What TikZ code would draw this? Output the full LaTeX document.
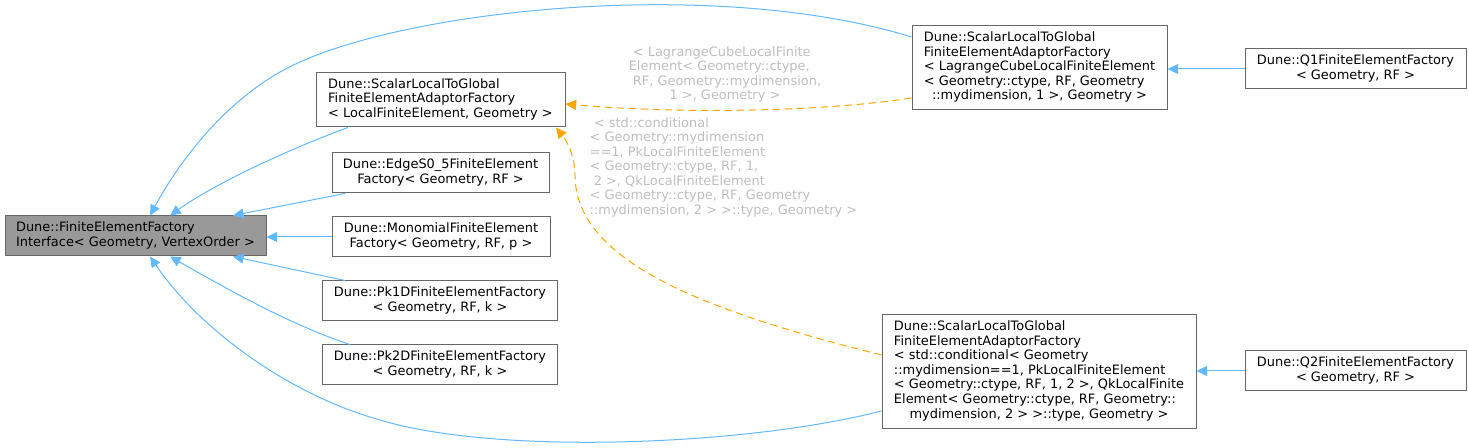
\documentclass[tikz,border=0pt]{standalone}
\usepackage{fontspec}
\setmainfont{DejaVu Sans}
\usetikzlibrary{arrows.meta}
\definecolor{edgeblue}{HTML}{63B8FF}
\definecolor{edgeorange}{HTML}{FFA500}
\definecolor{boxborder}{HTML}{666666}
\definecolor{basefill}{HTML}{999999}
\definecolor{labelgrey}{HTML}{BEBEBE}
\newcommand{\lastln}[1]{\multicolumn{1}{@{}c@{}}{#1}}
\tikzset{
  box/.style={draw=boxborder, fill=white, line width=0.75pt, inner sep=0pt,
    font=\fontsize{9.7}{10.9}\selectfont, text=black},
  basebox/.style={box, fill=basefill},
  lbl/.style={inner sep=0pt, font=\fontsize{9.7}{10.9}\selectfont, text=labelgrey},
  inherit/.style={draw=edgeblue, line width=0.75pt, -{Triangle[length=8pt,width=7.5pt]}},
  tmpl/.style={draw=edgeorange, line width=0.75pt, dash pattern=on 5.5pt off 3.5pt, -{Triangle[length=8pt,width=7.5pt]}, edgeorange}
}
\begin{document}
\begin{tikzpicture}[x=0.75pt, y=-0.75pt]
\useasboundingbox (0,0) rectangle (1469,448);

\node[basebox, minimum width=195.75pt, minimum height=30pt] (base) at (135.5,236)
  {\begin{tabular}{@{}l@{}}Dune::FiniteElementFactory\\ \lastln{Interface< Geometry, VertexOrder >}\end{tabular}};
\node[box, minimum width=186.75pt, minimum height=40.5pt] (SL) at (440.5,100)
  {\begin{tabular}{@{}l@{}}Dune::ScalarLocalToGlobal\\ FiniteElementAdaptorFactory\\ \lastln{< LocalFiniteElement, Geometry >}\end{tabular}};
\node[box, minimum width=162.75pt, minimum height=30pt] (Edge) at (440.5,173)
  {\begin{tabular}{@{}l@{}}Dune::EdgeS0\_5FiniteElement\\ \lastln{Factory< Geometry, RF >}\end{tabular}};
\node[box, minimum width=163.5pt, minimum height=30pt] (Mono) at (441,237)
  {\begin{tabular}{@{}l@{}}Dune::MonomialFiniteElement\\ \lastln{Factory< Geometry, RF, p >}\end{tabular}};
\node[box, minimum width=176.25pt, minimum height=30pt] (PkA) at (440,301)
  {\begin{tabular}{@{}l@{}}Dune::Pk1DFiniteElementFactory\\ \lastln{< Geometry, RF, k >}\end{tabular}};
\node[box, minimum width=176.25pt, minimum height=30pt] (PkB) at (440,365)
  {\begin{tabular}{@{}l@{}}Dune::Pk2DFiniteElementFactory\\ \lastln{< Geometry, RF, k >}\end{tabular}};
\node[box, minimum width=191.25pt, minimum height=63pt] (LC) at (1039.5,68)
  {\begin{tabular}{@{}l@{}}Dune::ScalarLocalToGlobal\\ FiniteElementAdaptorFactory\\ < LagrangeCubeLocalFiniteElement\\ < Geometry::ctype, RF, Geometry\\ \lastln{::mydimension, 1 >, Geometry >}\end{tabular}};
\node[box, minimum width=235.5pt, minimum height=84.75pt] (QC) at (1039,371.5)
  {\begin{tabular}{@{}l@{}}Dune::ScalarLocalToGlobal\\ FiniteElementAdaptorFactory\\ < std::conditional< Geometry\\ ::mydimension==1, PkLocalFiniteElement\\ < Geometry::ctype, RF, 1, 2 >, QkLocalFinite\\ Element< Geometry::ctype, RF, Geometry::\\ \lastln{mydimension, 2 > >::type, Geometry >}\end{tabular}};
\node[box, minimum width=165.75pt, minimum height=30pt] (QA) at (1355.5,69)
  {\begin{tabular}{@{}l@{}}Dune::Q1FiniteElementFactory\\ \lastln{< Geometry, RF >}\end{tabular}};
\node[box, minimum width=165.75pt, minimum height=30pt] (QB) at (1355.5,371)
  {\begin{tabular}{@{}l@{}}Dune::Q2FiniteElementFactory\\ \lastln{< Geometry, RF >}\end{tabular}};

% edge labels
\node[lbl] (lblA) at (725,75)
  {\begin{tabular}{@{}l@{}}\ < LagrangeCubeLocalFinite\\ Element< Geometry::ctype,\\ \ RF, Geometry::mydimension,\\ \lastln{1 >, Geometry >}\end{tabular}};
\node[lbl] (lblB) at (723.5,168)
  {\begin{tabular}{@{}l@{}}\ < std::conditional\\ < Geometry::mydimension\\ ==1, PkLocalFiniteElement\\ < Geometry::ctype, RF, 1,\\ \ 2 >, QkLocalFiniteElement\\ < Geometry::ctype, RF, Geometry\\ \lastln{::mydimension, 2 > >::type, Geometry >}\end{tabular}};

% inheritance connectors
\draw[inherit] ([yshift=23.25pt]LC.west) .. controls (720,-22) and (420,8) .. (300,62)
  .. controls (230,93) and (180,160) .. ([xshift=10.9pt]base.north);
\draw[inherit] ([xshift=-69.4pt]SL.south) .. controls (300,145) and (220,180) .. ([xshift=25.9pt]base.north);
\draw[inherit] ([xshift=-71.6pt]Edge.south) -- ([xshift=73.1pt]base.north);
\draw[inherit] (Mono.west) -- (Mono.west -| base.east);
\draw[inherit] ([xshift=-71.25pt]PkA.north) -- ([xshift=73.1pt]base.south);
\draw[inherit] ([xshift=-67.5pt]PkB.north) .. controls (290,325) and (220,285) .. ([xshift=25.9pt]base.south);
\draw[inherit] ([yshift=-29.6pt]QC.west) .. controls (750,445) and (500,456) .. (380,420)
  .. controls (290,395) and (200,330) .. ([xshift=10.9pt]base.south);
\draw[inherit] (QA.west) -- (QA.west -| LC.east);
\draw[inherit] (QB.west) -- (QB.west -| QC.east);

% template connectors
\draw[tmpl] ([yshift=-22.5pt]LC.west) .. controls (820,112) and (680,114) .. ([yshift=-3pt]SL.east);
\draw[tmpl] ([yshift=12.4pt]QC.west) .. controls (700,310) and (575,260) .. (575,175)
  .. controls (575,155) and (566,140) .. ([xshift=86.6pt]SL.south);
\end{tikzpicture}
\end{document}
